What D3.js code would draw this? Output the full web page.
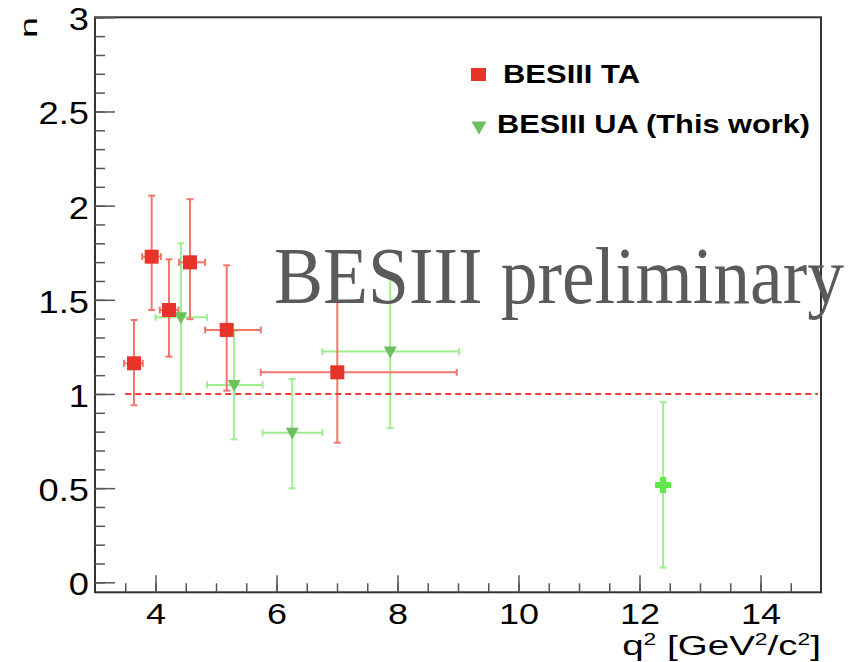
<!DOCTYPE html>
<html>
<head>
<meta charset="utf-8">
<script src="https://cdn.jsdelivr.net/npm/d3@7"></script>
<style>
  body { margin: 0; background: #fff; }
  svg { display: block; }
</style>
</head>
<body>
<div id="chart"></div>
<script>
// BESIII TA points (red squares)
const taQ   = [3.645, 3.937, 4.223, 4.570, 5.177, 7.005];
const taQLo = [3.48, 3.78, 4.07, 4.39, 4.82, 5.74];
const taQHi = [3.79, 4.09, 4.38, 4.82, 5.74, 8.98];
const taR   = [1.163, 1.729, 1.446, 1.699, 1.340, 1.115];
const taRLo = [0.940, 1.446, 1.198, 1.397, 1.018, 0.741];
const taRHi = [1.393, 2.053, 1.715, 2.034, 1.683, 1.494];

// BESIII UA points (green triangles)
const uaQ   = [4.42, 5.30, 6.26, 7.88];
const uaQLo = [4.00, 4.85, 5.77, 6.76];
const uaQHi = [4.85, 5.77, 6.76, 9.02];
const uaR   = [1.407, 1.048, 0.794, 1.225];
const uaRLo = [1.000, 0.759, 0.499, 0.818];
const uaRHi = [1.800, 1.335, 1.080, 1.623];

// high q2 UA point (green cross)
const hqQ   = [12.39];
const hqR   = [0.517];
const hqRLo = [0.078];
const hqRHi = [0.956];

const xMajor = [4, 6, 8, 10, 12, 14];
const xMinor = d3.range(3.5, 15, 0.5);
const yMajor = [0, 0.5, 1, 1.5, 2, 2.5, 3];
const yMinor = d3.range(0, 3.001, 0.1);
const yLabels = ["0", "0.5", "1", "1.5", "2", "2.5", "3"];

const legendLabels = ["BESIII TA", "BESIII UA (This work)"];

const width = 854, height = 662;
const svg = d3.select("#chart").append("svg")
  .attr("width", width).attr("height", height);

const x = d3.scaleLinear().domain([3, 15]).range([95, 821]);
const y = d3.scaleLinear().domain([-0.053, 3]).range([592.3, 17.3]);

const redBar = "#f2766b", greenBar = "#9fef8f";

// frame
svg.append("rect")
  .attr("x", x(3)).attr("y", y(3))
  .attr("width", x(15) - x(3)).attr("height", y(-0.053) - y(3))
  .attr("fill", "none").attr("stroke", "#333").attr("stroke-width", 2);

// x axis
const xAxisG = svg.append("g").attr("transform", `translate(0,${y(-0.053)})`);
xAxisG.append("g")
  .call(d3.axisBottom(x).tickValues(xMinor).tickSize(-9).tickFormat(""))
  .call(g => g.select(".domain").remove());
xAxisG.append("g")
  .call(d3.axisBottom(x).tickValues(xMajor).tickSize(-17).tickFormat(d3.format("d")))
  .call(g => g.select(".domain").remove());
xAxisG.selectAll(".tick line").attr("stroke", "#555").attr("stroke-width", 1.5);
xAxisG.selectAll(".tick text")
  .attr("y", 0).attr("dy", 0)
  .attr("transform", "translate(0,32) scale(1.2,1)")
  .attr("font-family", "Liberation Sans, Arial, sans-serif")
  .attr("font-size", 30).attr("fill", "#000");

// y axis
const yAxisG = svg.append("g").attr("transform", `translate(${x(3)},0)`);
yAxisG.append("g")
  .call(d3.axisLeft(y).tickValues(yMinor).tickSize(-10).tickFormat(""))
  .call(g => g.select(".domain").remove());
yAxisG.append("g")
  .call(d3.axisLeft(y).tickValues(yMajor).tickSize(-20).tickFormat((d, i) => yLabels[i]))
  .call(g => g.select(".domain").remove());
yAxisG.selectAll(".tick line").attr("stroke", "#555").attr("stroke-width", 1.5);
yAxisG.selectAll(".tick text")
  .attr("x", 0).attr("dy", "0.4em")
  .attr("transform", "translate(-6,0) scale(1.17,1)")
  .attr("font-family", "Liberation Sans, Arial, sans-serif")
  .attr("font-size", 31).attr("fill", "#000");

// axis titles
const xt = svg.append("text")
  .attr("x", 0).attr("y", 0)
  .attr("text-anchor", "end")
  .attr("font-family", "Liberation Sans, Arial, sans-serif")
  .attr("font-size", 27).attr("fill", "#000");
xt.append("tspan").text("q");
xt.append("tspan").attr("font-size", 16).attr("dy", -10).text("2");
xt.append("tspan").attr("dy", 10).text(" [GeV");
xt.append("tspan").attr("font-size", 16).attr("dy", -10).text("2");
xt.append("tspan").attr("dy", 10).text("/c");
xt.append("tspan").attr("font-size", 16).attr("dy", -10).text("2");
xt.append("tspan").attr("dy", 10).text("]");
const xtW = xt.node().getBBox().width;
xt.attr("transform", `translate(821,655) scale(${199 / xtW},1)`);

svg.append("text")
  .attr("transform", "translate(37,17) rotate(-90)")
  .attr("text-anchor", "end")
  .attr("font-family", "Liberation Sans, Arial, sans-serif")
  .attr("font-size", 23).attr("fill", "#000")
  .attr("textLength", 21).attr("lengthAdjust", "spacingAndGlyphs")
  .text("n");

// error bars helper
function errorBars(qs, qLo, qHi, rs, rLo, rHi, color) {
  const g = svg.append("g").attr("stroke", color).attr("stroke-width", 2);
  const cap = 3.5;
  qs.forEach((q, i) => {
    const cx = x(q), cy = y(rs[i]);
    g.append("line").attr("x1", cx).attr("x2", cx).attr("y1", y(rHi[i])).attr("y2", y(rLo[i]));
    g.append("line").attr("x1", cx - cap).attr("x2", cx + cap).attr("y1", y(rHi[i])).attr("y2", y(rHi[i]));
    g.append("line").attr("x1", cx - cap).attr("x2", cx + cap).attr("y1", y(rLo[i])).attr("y2", y(rLo[i]));
    if (qLo && qHi[i] > qLo[i]) {
      g.append("line").attr("x1", x(qLo[i])).attr("x2", x(qHi[i])).attr("y1", cy).attr("y2", cy);
      g.append("line").attr("x1", x(qLo[i])).attr("x2", x(qLo[i])).attr("y1", cy - cap).attr("y2", cy + cap);
      g.append("line").attr("x1", x(qHi[i])).attr("x2", x(qHi[i])).attr("y1", cy - cap).attr("y2", cy + cap);
    }
  });
}

errorBars(uaQ, uaQLo, uaQHi, uaR, uaRLo, uaRHi, greenBar);
errorBars(hqQ, null, null, hqR, hqRLo, hqRHi, greenBar);
errorBars(taQ, taQLo, taQHi, taR, taRLo, taRHi, redBar);

// reference line at 1
svg.append("line")
  .attr("x1", x(3.5)).attr("x2", x(15) - 3)
  .attr("y1", y(1)).attr("y2", y(1))
  .attr("stroke", "#f03a3a").attr("stroke-width", 2)
  .attr("stroke-dasharray", "6,4");

// markers
const triangle = (cx, cy, w, h) =>
  `M${cx - w / 2},${cy - h / 2}L${cx + w / 2},${cy - h / 2}L${cx},${cy + h / 2}Z`;

svg.append("g").selectAll("path")
  .data(uaQ.map((q, i) => [q, uaR[i]]))
  .join("path")
  .attr("d", d => triangle(x(d[0]), y(d[1]) + 1, 13, 12))
  .attr("fill", "#6cc05e");

svg.append("g").selectAll("path")
  .data(hqQ.map((q, i) => [q, hqR[i]]))
  .join("path")
  .attr("d", d => {
    const cx = x(d[0]), cy = y(d[1]), a = 8, t = 3;
    return `M${cx - t},${cy - a}H${cx + t}V${cy - t}H${cx + a}V${cy + t}H${cx + t}V${cy + a}H${cx - t}V${cy + t}H${cx - a}V${cy - t}H${cx - t}Z`;
  })
  .attr("fill", "#5fe84a");

svg.append("g").selectAll("rect")
  .data(taQ.map((q, i) => [q, taR[i]]))
  .join("rect")
  .attr("x", d => x(d[0]) - 7).attr("y", d => y(d[1]) - 7)
  .attr("width", 14).attr("height", 14)
  .attr("fill", "#e8332a");

// legend
svg.append("rect")
  .attr("x", 471).attr("y", 68).attr("width", 15).attr("height", 13)
  .attr("fill", "#e8332a");
svg.append("path")
  .attr("d", triangle(479, 128, 15, 13))
  .attr("fill", "#6cc05e");
const legendPos = [[503, 83.3, 137], [497, 132.7, 313]];
legendLabels.forEach((t, i) => {
  svg.append("text")
    .attr("x", legendPos[i][0]).attr("y", legendPos[i][1])
    .attr("font-family", "Liberation Sans, Arial, sans-serif")
    .attr("font-weight", "bold").attr("font-size", 25).attr("fill", "#000")
    .attr("textLength", legendPos[i][2]).attr("lengthAdjust", "spacingAndGlyphs")
    .text(t);
});

// watermark
svg.append("text")
  .attr("x", 274).attr("y", 303)
  .attr("font-family", "Liberation Serif, Times New Roman, serif")
  .attr("font-size", 80).attr("fill", "#5a5a5a")
  .attr("textLength", 570).attr("lengthAdjust", "spacingAndGlyphs")
  .text("BESIII preliminary");
</script>
</body>
</html>
